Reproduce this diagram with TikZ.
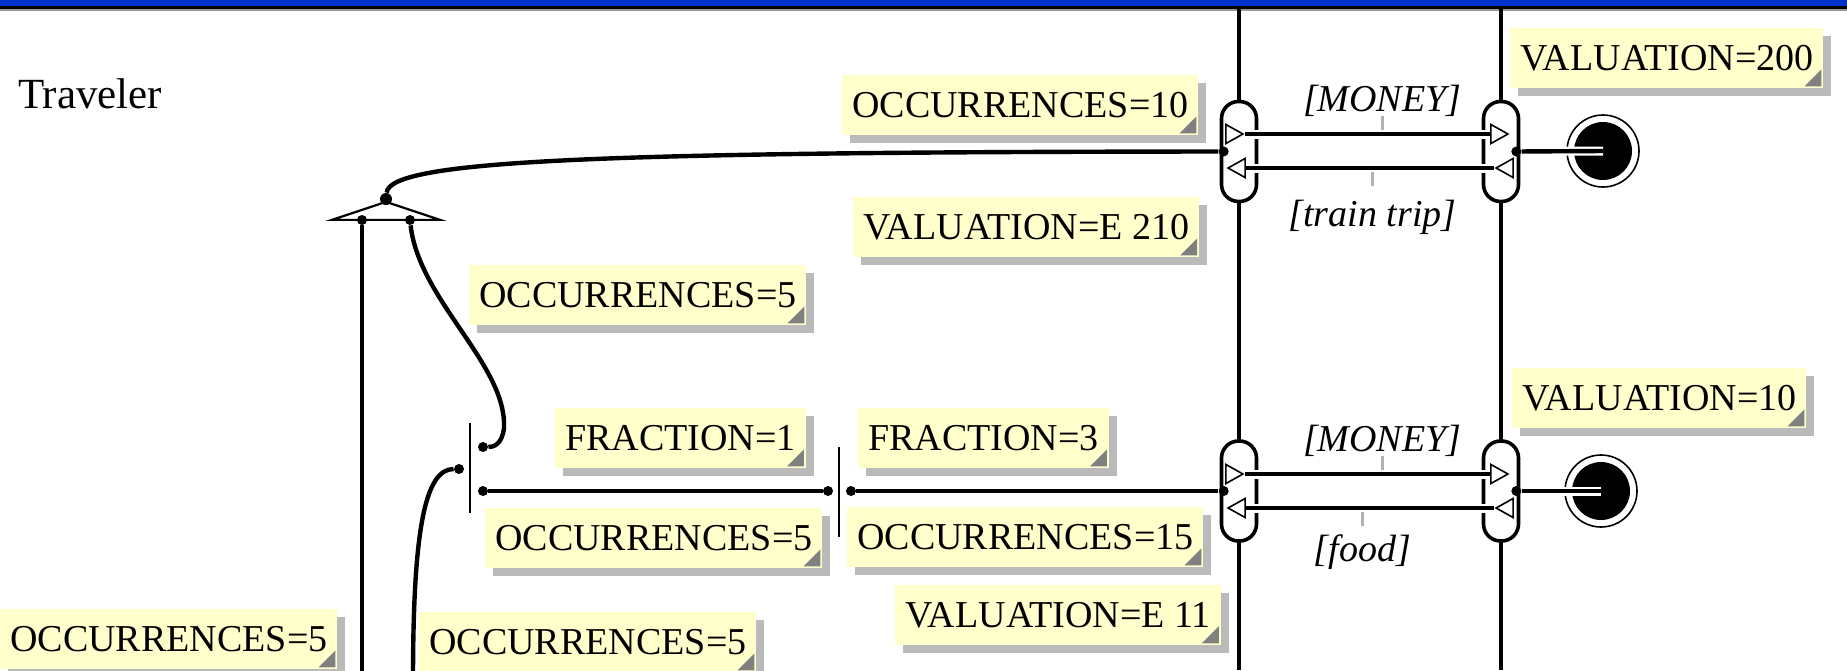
\documentclass[tikz,border=0pt]{standalone}
\usepackage{fontspec}
\setmainfont{Liberation Serif}
\usetikzlibrary{arrows.meta,positioning,shapes.geometric,shadows}
\definecolor{notefill}{RGB}{255,255,204}
\definecolor{hdrblue}{RGB}{0,51,204}
\newcommand{\notefont}{\fontsize{19}{22}\selectfont}

\begin{document}
\begin{tikzpicture}[x=0.5pt, y=-0.5pt, every node/.style={font=\notefont}]
\tikzstyle{note}=[fill=notefill, anchor=north west, minimum height=30pt, inner xsep=5pt, inner ysep=0pt, drop shadow={shadow xshift=4pt, shadow yshift=-4pt, fill=black!27, opacity=1}, path picture={\fill[black!50] ([shift={(-1pt,1pt)}]path picture bounding box.south east) -- ++(0,8.5pt) -- ++(-8.5pt,-8.5pt) -- cycle;}]
\tikzstyle{iface}=[draw, fill=white, line width=1.8pt, rounded corners=8.5pt, minimum width=17.5pt, minimum height=50pt, inner sep=0]
\tikzstyle{pr}=[isosceles triangle, isosceles triangle stretches, draw, fill=white, line width=0.8pt, minimum width=9.5pt, minimum height=8.5pt, inner sep=0]
\tikzstyle{pl}=[pr, shape border rotate=180]
\tikzstyle{flow}=[line width=2pt, preaction={draw=white, line width=4.5pt}]
\tikzstyle{tk}=[fill=black!30, inner sep=0, minimum width=1.6pt, minimum height=7pt]
\tikzstyle{lbl}=[font=\notefont\itshape, inner sep=0]
\tikzstyle{stim}=[circle, draw, line width=0.8pt, minimum size=36pt, inner sep=0, path picture={\fill (path picture bounding box.center) circle (14.5pt);}]
\tikzstyle{dot}=[circle, fill, inner sep=0, minimum size=5pt]
\tikzstyle{dep}=[line width=2.2pt]
\tikzstyle{bar}=[fill, inner sep=0, minimum width=1.1pt, minimum height=45pt]
\tikzstyle{fork}=[isosceles triangle, isosceles triangle stretches, shape border rotate=90, draw, fill=white, line width=1.1pt, minimum width=54pt, minimum height=9pt, inner sep=0]
\useasboundingbox (0,0) rectangle (1847,670);
\clip (0,0) rectangle (1847,670);
\fill[hdrblue] (0,0) rectangle (1847,6);
\fill[black] (0,6) rectangle (1847,9);
\fill[black!40] (0,9) rectangle (1847,11);
\node[anchor=base west, font=\fontsize{21.5}{24}\selectfont] (trav) at (11,108) {Traveler};
\draw[line width=1.9pt] (1239,9) -- (1239,670);
\draw[line width=1.9pt] (1501,9) -- (1501,670);

\node[note] (occ10) at (842,75) {OCCURRENCES=10};
\node[note] (val210) at (853,197) {VALUATION=E 210};
\node[note] (occ5a) at (469,265) {OCCURRENCES=5};
\node[note] (frac1) at (555,408) {FRACTION=1};
\node[note] (frac3) at (858,408) {FRACTION=3};
\node[note] (occ5b) at (485,508) {OCCURRENCES=5};
\node[note] (occ15) at (847,507) {OCCURRENCES=15};
\node[note] (val11) at (895,585) {VALUATION=E 11};
\node[note] (occ5c) at (0,609) {OCCURRENCES=5};
\node[note] (occ5d) at (419,612) {OCCURRENCES=5};
\node[note] (val200) at (1510,28) {VALUATION=200};
\node[note] (val10) at (1512,368) {VALUATION=10};

\node[iface] (ifA1) at (1239,151.5) {};
\node[iface] (ifB1) at (1501,151.5) {};
\node[iface] (ifA2) at (1239,491) {};
\node[iface] (ifB2) at (1501,491) {};
\node[pr, anchor=apex] (pA1) at (1245,134) {};
\node[pr, anchor=apex] (pB1) at (1510,134) {};
\node[pl, anchor=apex] (pA2) at (1226,168) {};
\node[pl, anchor=apex] (pB2) at (1494,168) {};
\node[pr, anchor=apex] (pA3) at (1245,474) {};
\node[pr, anchor=apex] (pB3) at (1510,474) {};
\node[pl, anchor=apex] (pA4) at (1226,508) {};
\node[pl, anchor=apex] (pB4) at (1494,508) {};
\draw[flow] (pA1) -- (pB1) node[pos=.56, tk, anchor=south, yshift=1pt] (t1) {};
\draw[flow] (pB2) -- (pA2) node[pos=.49, tk, anchor=north, yshift=-1pt] (t2) {};
\draw[flow] (pA3) -- (pB3) node[pos=.56, tk, anchor=south, yshift=1pt] (t3) {};
\draw[flow] (pB4) -- (pA4) node[pos=.53, tk, anchor=north, yshift=-1pt] (t4) {};
\node[lbl, above=-1.5pt of t1] (money1) {[MONEY]};
\node[lbl, below=6pt of t2] (trip) {[train trip]};
\node[lbl, above=-1.5pt of t3] (money2) {[MONEY]};
\node[lbl, below=3pt of t4] (food) {[food]};

\node[stim] (st1) at (1603,151) {};
\node[stim] (st2) at (1601,491) {};
\node[dot] (dB1) at ([xshift=-2pt]ifB1.east) {};
\node[dot] (dB2) at ([xshift=-2pt]ifB2.east) {};
\draw[dep, preaction={draw=white, line width=4.5pt}] (dB1) -- (st1.center);
\draw[dep, preaction={draw=white, line width=4.5pt}] (dB2) -- (st2.center);

\node[fork, anchor=apex] (fk) at (386,199) {};
\node[dot, minimum size=6pt] (fk0) at (fk.apex) {};
\node[dot] (fk1) at (362,220) {};
\node[dot] (fk2) at (410,220) {};
\node[dot] (dA1) at ([xshift=2pt]ifA1.west) {};
\draw[dep] (dA1) .. controls (600,152) and (390,160) .. (fk0);
\coordinate (e1) at (362,680);
\coordinate (e2) at (413,680);
\draw[dep] (fk1) -- (e1);

\node[bar] (br1) at (470,468) {};
\node[bar] (br2) at (839,492) {};
\node[dot] (bj1) at (483,447) {};
\node[dot] (bj2) at (459,469) {};
\node[dot] (bj3) at (483,491) {};
\node[dot] (bj4) at (828,491) {};
\node[dot] (bj5) at (851,491) {};
\node[dot] (dA2) at ([xshift=2pt]ifA2.west) {};
\draw[dep] (fk2) .. controls (419,300) and (507,365) .. (504,428) .. controls (502,445) and (493,447) .. (bj1);
\draw[dep] (e2) .. controls (413,530) and (425,469) .. (bj2);
\draw[dep] (bj3) -- (bj4);
\draw[dep] (bj5) -- (dA2);
\end{tikzpicture}
\end{document}
